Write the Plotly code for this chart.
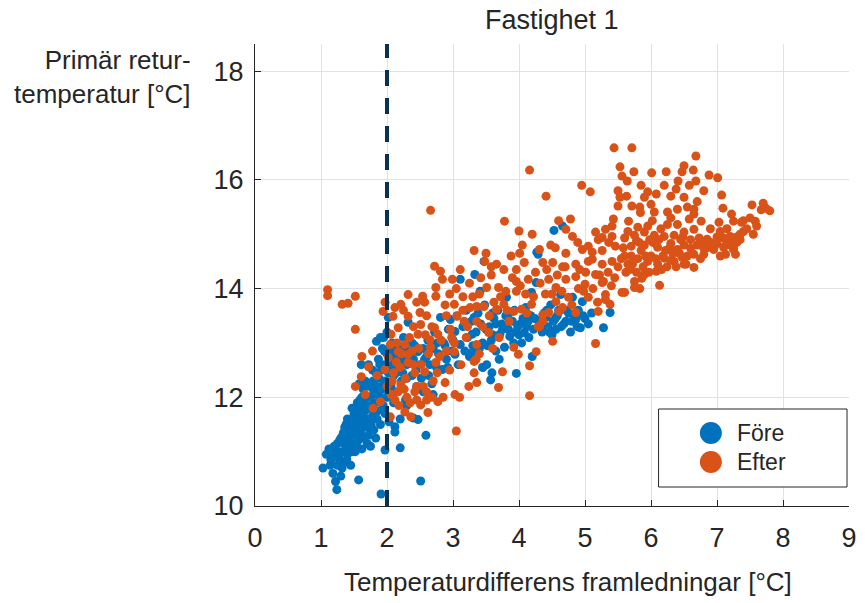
import plotly.graph_objects as go

# ---- data ----
fore_points = [
    (1.03,10.70),(1.08,10.95),(1.12,11.05),(1.15,10.85),(1.18,10.60),(1.20,11.10),(1.22,10.45),(1.24,10.30),
    (1.25,10.75),(1.27,10.90),(1.28,11.20),(1.30,10.55),(1.14,10.75),(1.26,11.00),
    (1.32,11.00),(1.33,11.30),(1.35,10.80),(1.36,11.45),(1.38,11.10),(1.40,10.95),(1.40,11.60),(1.42,11.25),
    (1.44,11.40),(1.45,10.75),(1.46,11.15),(1.48,11.50),(1.50,11.30),(1.50,11.70),(1.35,11.15),(1.43,11.05),
    (1.38,11.50),(1.47,11.80),
    (1.52,11.00),(1.53,11.40),(1.55,11.60),(1.56,11.20),(1.57,10.48),(1.58,11.80),(1.60,11.35),(1.60,11.50),
    (1.62,11.05),(1.63,11.70),(1.65,11.25),(1.66,11.90),(1.68,11.45),(1.70,11.60),(1.70,11.15),(1.55,11.90),
    (1.62,12.00),(1.61,12.60),(1.58,12.25),(1.67,12.30),
    (1.72,11.30),(1.73,11.80),(1.75,12.00),(1.76,11.50),(1.78,11.65),(1.80,11.40),(1.80,12.10),(1.82,11.90),
    (1.84,12.20),(1.85,11.60),(1.86,11.75),(1.88,12.35),(1.90,11.50),(1.90,12.00),(1.91,10.22),(1.75,11.10),
    (1.83,11.25),(1.84,13.03),(1.78,12.50),(1.72,12.60),(1.87,12.70),
    (1.92,12.50),(1.94,11.85),(1.95,12.15),(1.96,12.60),(1.97,11.70),(1.98,12.30),(2.00,12.00),(2.00,12.80),
    (2.02,12.45),(2.03,11.55),(2.05,12.65),(2.06,12.20),(2.08,13.00),(2.10,11.90),(2.10,12.40),(1.95,13.10),
    (2.00,13.20),(1.93,12.90),(1.97,11.03),(2.02,13.47),(1.90,13.10),
    (1.18,10.90),(1.22,11.00),(1.25,11.15),(1.30,11.25),(1.32,10.70),(1.34,11.35),(1.37,11.25),(1.39,10.85),
    (1.41,11.40),(1.43,11.55),(1.45,11.30),(1.47,11.00),(1.49,11.60),(1.51,11.45),(1.53,11.75),(1.54,11.10),
    (1.57,11.55),(1.59,11.95),(1.61,11.25),(1.64,11.55),(1.64,12.15),(1.67,11.75),(1.69,12.00),(1.71,11.45),
    (1.74,12.20),(1.77,11.85),(1.79,12.30),(1.81,11.70),(1.83,12.45),(1.86,12.05),(1.89,12.60),(1.92,12.20),
    (1.96,12.85),(1.99,12.55),(2.04,12.90),(2.07,12.55),(2.10,12.80),(2.14,12.45),(2.17,12.85),(2.20,12.65),
    (2.24,12.45),(2.27,12.90),(2.30,12.35),(2.34,12.75),
    (2.12,12.70),(2.15,12.10),(2.18,12.55),(2.20,11.07),(2.20,12.90),(2.22,12.30),(2.25,12.75),(2.28,11.95),
    (2.30,12.60),(2.32,13.38),(2.35,12.85),(2.38,12.40),(2.40,12.70),(2.42,12.95),(2.45,12.20),(2.47,12.84),
    (2.50,12.60),(2.51,10.46),(2.15,12.95),(2.25,13.10),(2.20,11.60),(2.30,11.85),(2.12,11.46),(2.12,11.36),
    (2.47,11.59),(2.40,11.62),(2.36,12.65),(2.44,12.50),(2.38,13.00),
    (2.55,12.90),(2.58,12.45),(2.59,11.30),(2.60,12.75),(2.62,13.05),(2.65,12.60),(2.68,12.25),(2.70,12.90),
    (2.72,13.20),(2.75,12.55),(2.78,12.80),(2.81,13.47),(2.84,12.51),(2.86,13.00),(2.90,12.70),(2.93,13.25),
    (2.96,13.43),(2.98,12.85),(2.55,12.10),(2.70,12.05),(2.66,12.92),
    (2.52,12.35),(2.63,12.40),(2.76,13.00),(2.88,12.95),(2.92,12.55),(3.00,13.05),(2.57,12.70),
    (3.03,13.21),(3.03,12.79),(3.06,13.50),(3.08,12.60),(3.11,12.97),(3.11,14.17),(3.15,13.30),(3.18,12.85),
    (3.20,13.60),(3.22,13.10),(3.25,12.75),(3.28,13.40),(3.30,12.95),(3.33,14.26),(3.35,13.20),(3.38,13.55),
    (3.40,12.90),(3.42,13.35),(3.45,13.00),(3.48,13.70),(3.50,13.25),(3.41,13.95),(3.32,13.47),(3.29,13.16),
    (3.29,12.82),(3.45,12.55),(3.47,14.50),(3.57,12.32),
    (3.51,12.60),(3.55,13.30),(3.58,13.05),(3.59,12.45),(3.62,13.45),(3.65,12.85),(3.68,13.60),(3.71,13.16),
    (3.74,13.35),(3.78,12.92),(3.80,13.50),(3.81,13.84),(3.84,13.25),(3.86,13.12),(3.90,13.40),(3.93,13.60),
    (3.96,12.44),(3.98,13.30),(4.00,13.15),(4.04,13.00),(4.06,13.45),(4.08,13.19),(4.10,13.65),(4.12,13.30),
    (4.15,13.10),(4.18,13.50),(4.19,13.93),(4.22,13.25),(4.26,14.11),(4.27,14.67),(4.29,14.63),(4.30,13.40),
    (4.31,13.38),(4.35,13.20),(4.38,13.55),(4.41,13.47),(4.44,13.30),(4.48,13.70),(4.50,13.15),(4.53,15.07),
    (4.55,13.45),(4.56,13.25),(4.60,13.60),(4.63,13.89),(4.66,15.15),(4.68,13.35),(4.71,13.40),(4.75,13.55),
    (4.78,13.20),(4.81,13.84),(4.84,13.50),(4.86,13.43),(4.90,13.60),(4.93,13.28),(4.96,13.76),(5.00,13.45),
    (5.10,13.55),(5.28,13.28),(5.38,13.56),(4.20,12.75),(3.70,12.70),(3.45,12.55),
    (3.60,13.15),(3.65,13.35),(3.75,13.25),(3.85,13.55),(3.95,13.20),(4.02,13.35),(4.14,13.40),(4.24,13.45),
    (4.34,13.30),(4.42,13.60),(4.52,13.40),(4.58,13.50),(4.64,13.30),(4.72,13.60),(4.80,13.40),(4.88,13.30),
    (4.97,13.50),(5.05,13.35),(4.46,13.20),(3.92,13.00),(3.52,12.95),(3.60,13.55),
]

efter_points = [
    (1.10,13.98),(1.10,13.87),(1.32,13.71),(1.41,13.73),(1.52,13.86),(1.52,13.25),
    (1.52,12.20),(1.67,12.05),(1.79,11.80),(1.90,11.92),(1.61,12.38),(1.72,12.56),(1.97,12.51),(1.97,13.75),
    (1.94,13.58),(1.62,12.75),(1.78,12.85),(1.85,12.40),
    (2.05,11.64),(2.06,12.05),(2.27,11.73),(2.36,11.64),(2.42,12.10),(2.21,12.23),(2.12,11.95),(2.30,12.00),
    (2.45,12.20),(2.17,12.10),(2.32,13.89),(2.21,13.71),(2.12,13.65),(2.09,13.49),(2.17,13.28),(2.32,13.49),
    (2.50,13.56),(2.06,13.16),(2.05,12.97),(2.17,12.84),(2.32,12.79),(2.32,12.64),(2.02,12.73),(2.27,12.97),
    (2.47,13.16),(2.40,13.30),(2.25,13.60),(2.45,13.75),(2.38,12.85),(2.10,12.45),(2.20,12.55),(2.42,12.45),
    (2.28,12.35),(2.35,11.90),(2.15,13.00),
    (2.08,12.30),(2.14,12.65),(2.22,12.80),(2.26,12.15),(2.34,13.10),(2.40,12.60),(2.48,12.90),(2.52,12.60),
    (2.58,13.15),(2.63,12.80),(2.68,13.30),(2.76,12.45),(2.82,13.05),(2.90,12.85),(2.98,13.10),(2.60,11.95),
    (2.45,11.95),(2.18,11.85),(2.00,12.20),
    (2.51,11.86),(2.62,11.72),(2.77,11.92),(2.88,12.27),(2.72,14.41),(2.81,14.32),(2.84,14.17),(2.99,14.17),
    (2.74,14.02),(2.74,13.86),(2.54,13.86),(2.57,13.75),(2.51,13.34),(2.72,13.28),(2.65,13.06),(2.77,13.16),
    (2.96,13.25),(2.66,12.92),(2.74,12.64),(2.57,12.47),(2.60,12.10),(2.70,12.30),(2.85,12.00),(2.95,12.50),
    (2.80,12.75),(2.90,13.50),(2.60,13.50),(2.66,15.44),(2.55,12.20),(2.68,12.00),
    (3.02,13.71),(3.06,13.49),(3.17,13.40),(3.02,12.84),(3.02,13.00),(3.11,14.35),(3.03,12.05),(3.05,11.38),
    (3.10,12.00),(3.24,12.20),(3.36,12.27),(3.32,12.66),(3.32,12.45),(3.36,12.97),(3.36,13.40),(3.26,13.65),
    (3.36,13.67),(3.47,13.67),(3.48,14.50),(3.32,14.70),(3.50,14.65),(3.51,14.02),(3.54,13.19),(3.15,13.85),
    (3.20,13.10),(3.40,13.90),(3.25,14.10),(3.45,13.30),(3.12,12.60),(3.40,12.80),
    (3.15,13.60),(3.30,13.85),(3.42,14.20),(3.58,14.40),(3.05,14.00),(2.95,13.90),(2.88,13.70),(3.22,13.30),
    (3.35,12.70),
    (3.66,14.45),(3.77,14.35),(3.96,14.35),(3.96,14.13),(3.69,14.02),(3.96,13.95),(3.77,13.71),(3.66,13.62),
    (3.62,13.75),(3.92,13.58),(3.78,15.24),(4.00,15.06),(4.01,14.65),(3.75,12.47),(3.69,12.18),(3.92,12.92),
    (3.99,12.79),(3.85,13.40),(3.60,12.90),(3.70,13.10),(3.88,14.60),(3.58,14.25),(3.80,13.95),
    (3.55,13.50),(3.72,13.85),(3.82,13.60),(3.90,14.20),(4.02,14.05),(4.12,13.55),(4.22,13.85),(4.32,14.10),
    (4.42,14.35),(4.50,13.90),(4.58,14.25),(4.65,13.95),(4.70,14.40),(4.80,13.70),(4.92,14.35),(4.98,13.95),
    (5.05,14.50),(5.12,14.00),(5.22,14.25),(5.35,14.30),(5.40,14.05),
    (4.08,14.48),(4.14,14.17),(4.36,14.48),(4.45,14.17),(4.04,13.62),(4.19,13.71),(4.29,13.30),(4.36,13.40),
    (4.45,13.56),(4.36,13.52),(4.31,13.30),(4.16,12.58),(4.26,12.84),(4.16,12.03),(4.16,16.18),(4.41,15.70),
    (4.31,14.72),(4.25,14.30),(4.10,13.90),(4.40,13.90),(4.20,15.00),(4.48,14.80),(4.05,14.80),
    (4.51,14.48),(4.56,14.02),(4.71,14.17),(4.86,14.22),(4.86,14.45),(4.75,13.84),(4.56,13.76),(4.66,13.65),
    (4.86,13.56),(4.61,13.58),(4.51,13.03),(4.71,15.09),(4.81,14.96),(4.89,14.85),(4.96,14.72),(4.71,14.65),
    (4.78,15.28),(4.95,15.90),(4.66,14.40),(4.90,14.00),(4.60,15.25),(4.55,14.75),
    (5.01,14.30),(5.11,14.54),(5.26,14.45),(5.41,14.50),(5.26,14.11),(5.31,13.89),(5.19,13.75),(5.38,13.71),
    (5.05,13.84),(5.20,13.58),(5.16,12.99),(5.05,14.78),(5.16,15.04),(5.26,14.94),(5.31,15.09),(5.43,15.28),
    (5.41,15.15),(5.50,15.80),(5.53,15.68),(5.50,15.52),(5.53,16.24),(5.44,16.59),(5.11,14.67),(5.26,14.70),
    (5.36,14.85),(5.46,14.78),(5.41,14.96),(5.08,15.78),(5.16,14.26),(5.28,14.13),(5.00,14.08),(5.31,13.80),
    (5.50,14.40),(5.45,14.20),(5.20,14.90),
    (5.56,16.07),(5.56,13.93),(5.71,16.59),(5.74,16.15),(5.64,15.98),(5.95,15.78),(5.90,15.68),(5.63,15.70),
    (5.71,15.52),(5.83,15.50),(5.84,15.40),(5.95,15.15),(5.80,15.13),(5.66,15.24),(5.90,15.04),(5.75,14.98),
    (5.60,14.93),(5.90,14.80),(5.70,14.78),(5.65,14.45),(5.90,14.26),(5.75,14.13),(5.86,14.19),(5.75,14.02),
    (5.83,14.00),(5.60,13.93),(5.60,14.60),(5.70,14.60),(5.80,14.55),(5.95,14.50),(5.85,14.70),(5.65,15.05),
    (5.78,14.88),(5.98,14.90),(5.55,14.55),(5.68,14.35),(5.88,14.40),
    (5.58,14.75),(5.62,14.30),(5.72,14.45),(5.78,14.30),(5.82,14.85),(5.92,14.60),(5.97,14.30),(6.03,14.85),
    (6.07,14.55),(6.12,14.90),(6.18,14.60),(6.24,14.40),(6.28,14.75),(6.33,14.65),(6.38,14.40),(6.43,14.65),
    (6.48,14.95),(6.55,14.60),(6.60,14.90),(6.70,14.80),(6.75,14.55),(6.85,14.75),(6.90,14.85),(7.00,14.95),
    (7.05,15.05),(7.15,14.85),(7.20,14.80),(7.30,14.85),(7.35,14.90),(7.40,15.05),(6.58,15.90),(6.30,15.70),
    (6.20,15.90),(5.85,15.90),(6.00,15.55),(6.80,15.80),
    (6.01,16.13),(6.23,16.15),(6.41,15.98),(6.38,15.83),(6.47,16.15),(6.08,15.74),(6.05,15.41),(6.25,15.41),
    (6.40,15.46),(6.25,15.18),(6.40,15.18),(6.35,14.98),(6.20,14.96),(6.05,14.98),(6.30,14.83),(6.40,14.72),
    (6.10,14.76),(6.16,14.35),(6.35,14.50),(6.08,14.32),(6.13,14.06),(6.20,14.56),(6.47,14.58),(6.30,14.52),
    (6.00,14.60),(6.15,15.10),(6.45,14.90),(6.02,15.25),(6.30,15.30),(6.22,14.70),(6.10,14.45),
    (6.50,16.26),(6.64,16.18),(6.68,16.44),(6.88,16.09),(6.68,15.98),(6.50,15.68),(6.65,15.46),(6.65,15.37),
    (6.76,15.24),(6.58,15.28),(6.85,14.91),(6.73,14.93),(6.65,15.09),(6.50,15.04),(6.50,14.80),(6.78,14.83),
    (6.95,14.74),(6.80,14.74),(6.60,14.74),(6.53,14.45),(6.65,14.39),(6.65,14.63),(6.80,14.63),(6.95,14.72),
    (6.50,14.45),(6.90,15.10),(6.70,15.60),(6.55,15.50),
    (7.01,16.04),(7.07,15.72),(7.09,15.48),(7.53,15.54),(7.70,15.57),(7.74,15.48),(7.80,15.43),(7.67,15.45),
    (7.58,15.24),(7.22,15.37),(7.25,15.24),(7.37,15.22),(7.40,15.25),(7.03,15.22),(7.35,15.00),(7.20,14.96),
    (7.10,14.93),(7.25,14.85),(7.00,14.83),(7.10,14.76),(7.25,14.74),(7.13,14.63),(7.28,14.63),(7.25,14.72),
    (7.55,15.00),(7.45,15.10),(7.60,15.15),(7.15,15.10),(7.05,14.60),(7.30,14.95),(7.50,15.30),
]

threshold_x = 2
x_ticks = [0, 1, 2, 3, 4, 5, 6, 7, 8, 9]
y_ticks = [10, 12, 14, 16, 18]
series_names = ["Före", "Efter"]
title_text = "Fastighet 1"
x_label = "Temperaturdifferens framledningar [°C]"
y_label = "Primär retur-<br>temperatur [°C]"

fore_x = [p[0] for p in fore_points]
fore_y = [p[1] for p in fore_points]
efter_x = [p[0] for p in efter_points]
efter_y = [p[1] for p in efter_points]

FONT = "Liberation Sans, Arial, Helvetica, sans-serif"
TXT = "#262626"
BLUE = "#0072BD"
ORANGE = "#D95319"
colors = [BLUE, ORANGE]

# plot area in pixels: left 255, right 857, top 44, bottom 506
PL, PR, PT, PB = 255, 857, 44, 506
def px_x(p):
    return (p - PL) / (PR - PL)
def px_y(p):
    return (PB - p) / (PB - PT)

fig = go.Figure()
fig.add_trace(go.Scatter(x=fore_x, y=fore_y, mode="markers", name=series_names[0], showlegend=False,
                         marker=dict(size=9, color=BLUE, line=dict(width=0))))
fig.add_trace(go.Scatter(x=efter_x, y=efter_y, mode="markers", name=series_names[1], showlegend=False,
                         marker=dict(size=9, color=ORANGE, line=dict(width=0))))

fig.add_shape(type="line", xref="x", yref="y", x0=threshold_x, x1=threshold_x, y0=10, y1=18.5,
              line=dict(color="#0b3150", width=4, dash="16px,12px"), layer="above")

# legend box (drawn manually to match the large legend markers)
fig.add_shape(type="rect", xref="paper", yref="paper",
              x0=px_x(664), x1=px_x(855), y0=px_y(487), y1=px_y(409),
              line=dict(color=TXT, width=1), fillcolor="white", layer="above")
legend_rows = [433, 462]
annotations = []
for name, col, row in zip(series_names, colors, legend_rows):
    fig.add_shape(type="circle", xref="paper", yref="paper", xsizemode="pixel", ysizemode="pixel",
                  xanchor=px_x(717), yanchor=px_y(row), x0=-11, x1=11, y0=-11, y1=11,
                  line=dict(width=0), fillcolor=col, layer="above")
    annotations.append(dict(text=name, xref="paper", yref="paper", x=px_x(741), y=px_y(row),
                            xanchor="left", yanchor="middle", showarrow=False,
                            font=dict(family=FONT, size=23, color=TXT)))

axis_common = dict(showgrid=True, gridcolor="#e2e2e2", gridwidth=1, zeroline=False,
                   showline=True, linecolor=TXT, linewidth=1, ticks="inside", ticklen=6,
                   tickcolor=TXT, tickwidth=1, mirror=False,
                   tickfont=dict(family=FONT, size=27, color=TXT))

annotations += [
    dict(text=title_text, xref="paper", yref="paper", x=0.5, y=1.0, yshift=24,
         xanchor="center", yanchor="middle", showarrow=False,
         font=dict(family=FONT, size=27, color=TXT)),
    dict(text=x_label, xref="paper", yref="paper", x=0.527, y=0, yshift=-76,
         xanchor="center", yanchor="middle", showarrow=False,
         font=dict(family=FONT, size=26, color=TXT)),
    dict(text=y_label, xref="paper", yref="paper", x=0, xshift=-62, y=1.0, yshift=-33,
         xanchor="right", yanchor="middle", align="right", showarrow=False,
         font=dict(family=FONT, size=26, color=TXT)),
]

fig.update_layout(
    width=865, height=603,
    margin=dict(l=PL, r=865 - PR, t=PT, b=603 - PB),
    paper_bgcolor="white", plot_bgcolor="white",
    font=dict(family=FONT, size=26, color=TXT),
    xaxis=dict(range=[0, 9], tickvals=x_ticks, ticklabelstandoff=8, **axis_common),
    yaxis=dict(range=[10, 18.5], tickvals=y_ticks, ticklabelstandoff=5, **axis_common),
    showlegend=False,
    annotations=annotations,
)

fig.write_html("out.html")
